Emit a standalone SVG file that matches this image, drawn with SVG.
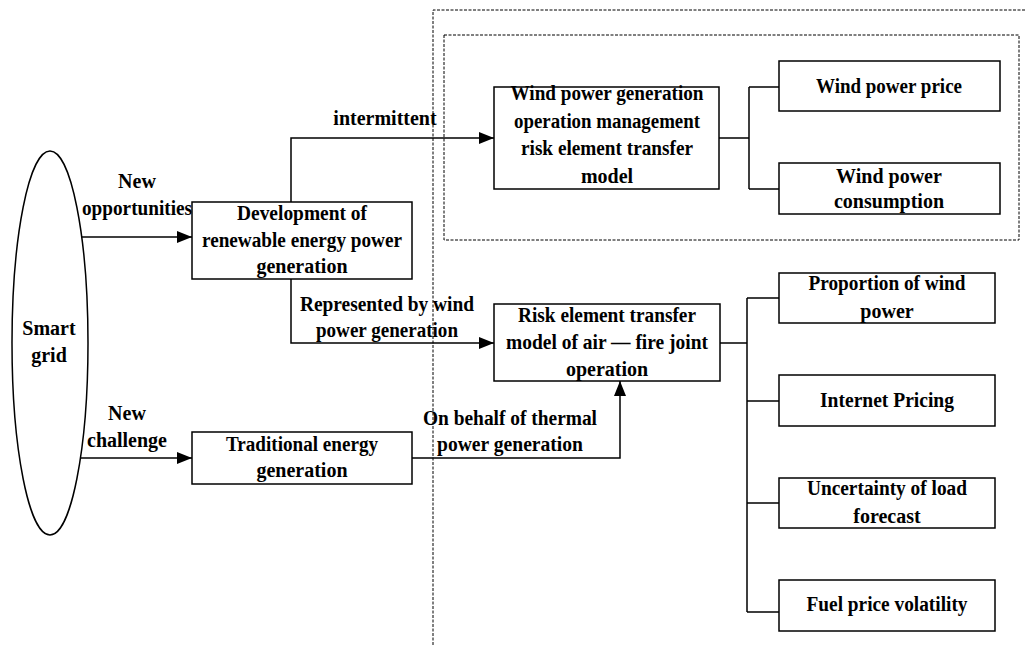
<svg xmlns="http://www.w3.org/2000/svg" width="1025" height="645" viewBox="0 0 1025 645">
<defs>
<style>
.n{fill:#fff;stroke:#000;stroke-width:1.5}
.t{font-family:"Liberation Serif","Times New Roman",serif;font-weight:bold;font-size:20px;text-anchor:middle;fill:#000}
.c{fill:none;stroke:#000;stroke-width:1.5}
.d{fill:none;stroke:#000;stroke-width:1;stroke-dasharray:3,1.5}
</style>
<marker id="ar" viewBox="0 0 15 12" refX="15" refY="6" markerWidth="15" markerHeight="12" markerUnits="userSpaceOnUse" orient="auto">
<path d="M0,0 L15,6 L0,12 Z" fill="#000"/>
</marker>
</defs>
<rect width="1025" height="645" fill="#fff"/>
<g id="groups">
<path class="d" d="M433,645 V10 H1025"/>
<rect class="d" x="444" y="35" width="575" height="205"/>
</g>
<g id="connectors">
<path class="c" d="M82,237 H192" marker-end="url(#ar)"/>
<path class="c" d="M81,458 H192" marker-end="url(#ar)"/>
<path class="c" d="M291,202 V138 H494" marker-end="url(#ar)"/>
<path class="c" d="M291,279 V343 H494" marker-end="url(#ar)"/>
<path class="c" d="M412,458 H620 V381" marker-end="url(#ar)"/>
<path class="c" d="M719,138 H749 M749,87 V189 M749,87 H779 M749,189 H779"/>
<path class="c" d="M720,343 H747 M747,298 V612 M747,298 H779 M747,401 H779 M747,503 H779 M747,612 H779"/>
<text class="t" x="137" y="188">New</text>
<text class="t" x="137" y="215" textLength="110" lengthAdjust="spacingAndGlyphs">opportunities</text>
<text class="t" x="127" y="420">New</text>
<text class="t" x="127" y="447">challenge</text>
<text class="t" x="385" y="125">intermittent</text>
<text class="t" x="387" y="311" textLength="174" lengthAdjust="spacingAndGlyphs">Represented by wind</text>
<text class="t" x="387" y="337" textLength="142" lengthAdjust="spacingAndGlyphs">power generation</text>
<text class="t" x="510" y="425" textLength="174" lengthAdjust="spacingAndGlyphs">On behalf of thermal</text>
<text class="t" x="510" y="451" textLength="146" lengthAdjust="spacingAndGlyphs">power generation</text>
</g>
<g id="smart-grid">
<ellipse class="n" cx="50" cy="343" rx="38" ry="192"/>
<text class="t" x="49" y="335">Smart</text>
<text class="t" x="49" y="362">grid</text>
</g>
<g id="development">
<rect class="n" x="192" y="202" width="220" height="77"/>
<text class="t" x="302" y="220" textLength="130" lengthAdjust="spacingAndGlyphs">Development of</text>
<text class="t" x="302" y="247" textLength="200" lengthAdjust="spacingAndGlyphs">renewable energy power</text>
<text class="t" x="302" y="273">generation</text>
</g>
<g id="traditional">
<rect class="n" x="192" y="432" width="220" height="52"/>
<text class="t" x="302" y="451" textLength="152" lengthAdjust="spacingAndGlyphs">Traditional energy</text>
<text class="t" x="302" y="477">generation</text>
</g>
<g id="wind-model">
<rect class="n" x="494" y="87" width="225" height="102"/>
<text class="t" x="607" y="100" textLength="193" lengthAdjust="spacingAndGlyphs">Wind power generation</text>
<text class="t" x="607" y="128" textLength="186" lengthAdjust="spacingAndGlyphs">operation management</text>
<text class="t" x="607" y="155" textLength="172" lengthAdjust="spacingAndGlyphs">risk element transfer</text>
<text class="t" x="607" y="183">model</text>
</g>
<g id="wind-price">
<rect class="n" x="779" y="61" width="221" height="50"/>
<text class="t" x="889" y="93" textLength="146" lengthAdjust="spacingAndGlyphs">Wind power price</text>
</g>
<g id="wind-consumption">
<rect class="n" x="779" y="163" width="221" height="51"/>
<text class="t" x="889" y="183">Wind power</text>
<text class="t" x="889" y="208">consumption</text>
</g>
<g id="joint-model">
<rect class="n" x="494" y="304" width="226" height="77"/>
<text class="t" x="607" y="322" textLength="178" lengthAdjust="spacingAndGlyphs">Risk element transfer</text>
<text class="t" x="607" y="349" textLength="202" lengthAdjust="spacingAndGlyphs">model of air — fire joint</text>
<text class="t" x="607" y="376">operation</text>
</g>
<g id="proportion">
<rect class="n" x="779" y="273" width="216" height="50"/>
<text class="t" x="887" y="290" textLength="157" lengthAdjust="spacingAndGlyphs">Proportion of wind</text>
<text class="t" x="887" y="318">power</text>
</g>
<g id="internet-pricing">
<rect class="n" x="779" y="375" width="216" height="51"/>
<text class="t" x="887" y="407" textLength="134" lengthAdjust="spacingAndGlyphs">Internet Pricing</text>
</g>
<g id="uncertainty">
<rect class="n" x="779" y="478" width="216" height="50"/>
<text class="t" x="887" y="495" textLength="160" lengthAdjust="spacingAndGlyphs">Uncertainty of load</text>
<text class="t" x="887" y="523">forecast</text>
</g>
<g id="fuel">
<rect class="n" x="779" y="580" width="216" height="51"/>
<text class="t" x="887" y="611" textLength="161" lengthAdjust="spacingAndGlyphs">Fuel price volatility</text>
</g>
</svg>
